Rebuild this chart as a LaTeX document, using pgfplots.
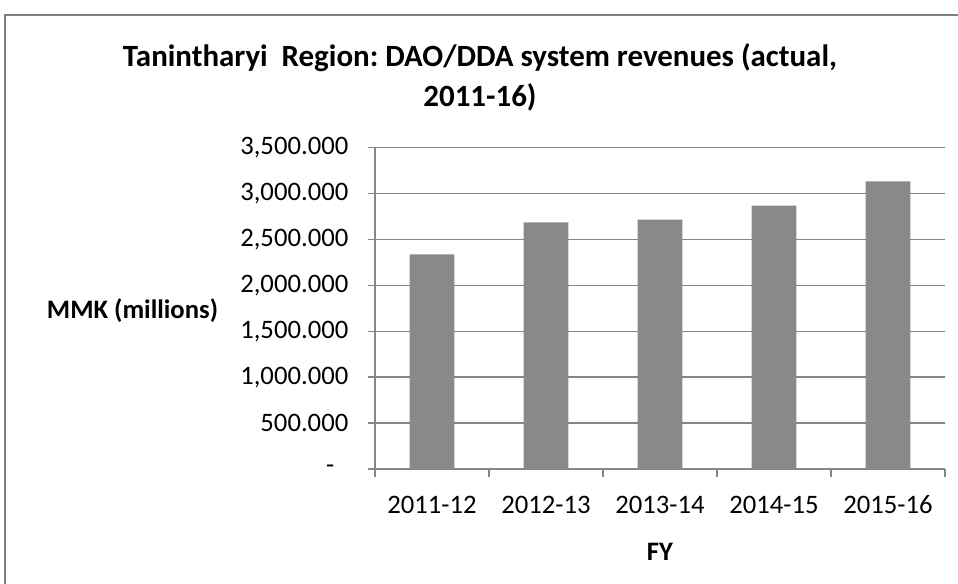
\documentclass[border=0pt]{standalone}
\usepackage{fontspec}
\setmainfont{Carlito}
\usepackage{pgfplots}
\pgfplotsset{compat=1.18}
\definecolor{bargray}{RGB}{137,137,140}
\definecolor{gridgray}{RGB}{134,134,136}
\definecolor{framegray}{RGB}{128,128,128}

\begin{document}
\frenchspacing
\begin{tikzpicture}[x=0.75pt,y=-0.75pt]
\useasboundingbox[fill=white] (0,0) rectangle (958,584);
\draw[framegray, line width=1.5pt] (5,600) -- (5,15) -- (970,15);
% title and labels, positions in pixels of the reference
\node[font=\fontsize{23.2}{30}\selectfont\bfseries, align=center] at (480,77)
  {Tanintharyi\hspace{0.45em}Region: DAO/DDA system revenues (actual,\\2011-16)};
\node[font=\fontsize{20}{22}\selectfont\bfseries] at (132.5,311) {MMK (millions)};
\node[font=\fontsize{20}{22}\selectfont\bfseries] at (660,552) {FY};

\begin{axis}[
  at={(281.25pt,-351.975pt)}, anchor=south west,
  scale only axis, width=427.5pt, height=241.5pt,
  xmin=-0.5, xmax=4.5, ymin=0, ymax=3500,
  axis lines*=left,
  axis line style={gridgray, line width=1.2pt},
  ymajorgrids, grid style={gridgray, line width=1.2pt},
  tick align=outside, major tick length=5.5pt,
  tick style={gridgray, line width=1.2pt},
  ytick={0,500,...,3500},
  yticklabels={{-\kern10.5pt},{500.000},{1,000.000},{1,500.000},{2,000.000},{2,500.000},{3,000.000},{3,500.000}},
  xtick={-0.5,0.5,...,4.5}, xticklabels={},
  extra x ticks={0,1,2,3,4},
  extra x tick labels={2011-12,2012-13,2013-14,2014-15,2015-16},
  extra x tick style={major tick length=0pt, tick style={draw=none}},
  ticklabel style={font=\fontsize{20}{22}\selectfont, text=black},
  yticklabel style={xshift=-11pt},
  xticklabel style={anchor=base, yshift=-33pt},
]
\addplot[ybar, bar width=33.4pt, fill=bargray, draw=none]
  coordinates {(0,2337) (1,2685) (2,2714) (3,2866) (4,3130)};
\end{axis}
\end{tikzpicture}
\end{document}
